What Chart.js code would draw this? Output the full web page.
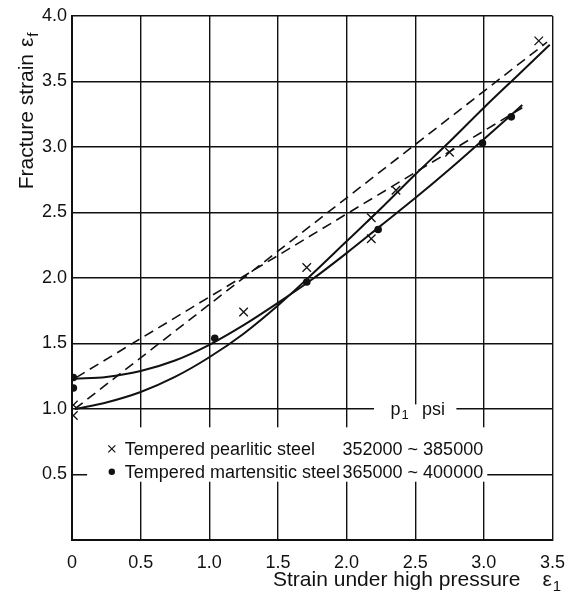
<!DOCTYPE html>
<html lang="en">
<head>
<meta charset="UTF-8">
<title>Fracture strain vs strain under high pressure</title>
<script src="https://cdn.jsdelivr.net/npm/chart.js@4.4.0/dist/chart.umd.min.js"></script>
<style>
  body { margin: 0; background: #fff; }
  #wrap { width: 577px; height: 598px; }
</style>
</head>
<body>
<div id="wrap"><canvas id="chart" width="577" height="598"></canvas></div>
<script>
const pearliticX = [0.01, 0.01, 1.25, 1.71, 2.18, 2.18, 2.36, 2.75, 3.40];
const pearliticY = [1.03, 0.95, 1.74, 2.08, 2.46, 2.30, 2.67, 2.96, 3.81];
const martensiticX = [0.01, 0.01, 1.04, 1.71, 2.23, 2.99, 3.20];
const martensiticY = [1.24, 1.16, 1.54, 1.97, 2.37, 3.03, 3.23];

// solid curves
const curvePearlX = [0.02, 0.25, 0.5, 0.75, 1.0, 1.25, 1.5, 1.75, 2.0, 2.25, 2.5, 2.75, 3.0, 3.25, 3.48];
const curvePearlY = [1.00, 1.05, 1.13, 1.245, 1.395, 1.575, 1.79, 2.03, 2.28, 2.53, 2.79, 3.04, 3.30, 3.55, 3.78];
const curveMartX = [0.02, 0.25, 0.5, 0.75, 1.0, 1.25, 1.5, 1.75, 2.0, 2.25, 2.5, 2.75, 3.0, 3.28];
const curveMartY = [1.23, 1.245, 1.29, 1.37, 1.49, 1.64, 1.81, 1.99, 2.19, 2.40, 2.61, 2.83, 3.06, 3.32];

// straight dashed lines
const dashPearlX = [0.02, 3.46];
const dashPearlY = [1.00, 3.80];
const dashMartX = [0.03, 3.28];
const dashMartY = [1.24, 3.30];

// axis ticks
const xTickLabels = ['0', '0.5', '1.0', '1.5', '2.0', '2.5', '3.0', '3.5'];
const yTickLabels = ['', '0.5', '1.0', '1.5', '2.0', '2.5', '3.0', '3.5', '4.0'];

// legend text
const legendNames = ['Tempered pearlitic steel', 'Tempered martensitic steel'];
const legendRanges = ['352000 ~ 385000', '365000 ~ 400000'];

const FONT = "'Liberation Sans', Arial, sans-serif";
const INK = '#111';

function pts(xs, ys) {
    return xs.map((x, i) => ({ x: x, y: ys[i] }));
}

// text with a small subscript after it
function subText(ctx, x, y, main, sub, size) {
    ctx.font = size + 'px ' + FONT;
    const w1 = ctx.measureText(main).width;
    ctx.fillText(main, x, y);
    ctx.font = Math.round(size * 0.7) + 'px ' + FONT;
    ctx.fillText(sub, x + w1 + 1, y + size * 0.22);
    return w1 + 1 + ctx.measureText(sub).width;
}

const paperPlugin = {
    id: 'paper',
    beforeDatasetsDraw(chart) {
        const ctx = chart.ctx;
        const xs = chart.scales.x, ys = chart.scales.y;
        ctx.save();
        ctx.fillStyle = '#fff';
        // legend panel hides the grid behind it
        const l = xs.getPixelForValue(0.11), r = xs.getPixelForValue(3.025);
        const t = ys.getPixelForValue(0.86), b = ys.getPixelForValue(0.445);
        ctx.fillRect(l, t, r - l, b - t);
        // gap in the 1.0 line for "p1 psi"
        const pl = xs.getPixelForValue(2.2), pr = xs.getPixelForValue(2.8);
        const pt = ys.getPixelForValue(1.035);
        ctx.fillRect(pl, pt, pr - pl, t - pt + 1);
        ctx.restore();
    },
    afterDraw(chart) {
        const ctx = chart.ctx;
        const xs = chart.scales.x, ys = chart.scales.y;
        const area = chart.chartArea;
        ctx.save();
        ctx.fillStyle = INK;
        ctx.strokeStyle = INK;
        ctx.textBaseline = 'alphabetic';
        ctx.textAlign = 'left';

        // p1 psi
        subText(ctx, xs.getPixelForValue(2.32), ys.getPixelForValue(0.955), 'p', '1', 18);
        ctx.font = '18px ' + FONT;
        ctx.fillText('psi', xs.getPixelForValue(2.55), ys.getPixelForValue(0.955));

        // legend rows
        const rowY = [0.65, 0.475];
        const textX = xs.getPixelForValue(0.385);
        const markX = xs.getPixelForValue(0.29);
        rowY.forEach((v, i) => {
            const by = ys.getPixelForValue(v);
            ctx.font = '18px ' + FONT;
            ctx.textAlign = 'left';
            ctx.fillText(legendNames[i], textX, by);
            ctx.textAlign = 'right';
            ctx.fillText(legendRanges[i], xs.getPixelForValue(2.995), by);
            const my = by - 6;
            if (i === 0) {
                ctx.lineWidth = 1.2;
                ctx.beginPath();
                ctx.moveTo(markX - 3.5, my - 3.5); ctx.lineTo(markX + 3.5, my + 3.5);
                ctx.moveTo(markX + 3.5, my - 3.5); ctx.lineTo(markX - 3.5, my + 3.5);
                ctx.stroke();
            } else {
                ctx.beginPath();
                ctx.arc(markX, my, 3.2, 0, Math.PI * 2);
                ctx.fill();
            }
        });

        // x axis title
        ctx.font = '21px ' + FONT;
        ctx.textAlign = 'right';
        ctx.fillText('Strain under high pressure', area.right - 32, 586);
        ctx.textAlign = 'left';
        subText(ctx, area.right - 10, 586, '\u03b5', '1', 21);

        // y axis title, rotated
        ctx.translate(33, 30);
        ctx.rotate(-Math.PI / 2);
        ctx.font = '21px ' + FONT;
        ctx.textAlign = 'right';
        ctx.fillText('Fracture strain', -24, 0);
        ctx.textAlign = 'left';
        subText(ctx, -17, 0, '\u03b5', 'f', 21);
        ctx.restore();
    }
};

new Chart(document.getElementById('chart'), {
    type: 'scatter',
    data: {
        datasets: [
            {
                label: 'pearlitic curve', type: 'line', data: pts(curvePearlX, curvePearlY),
                borderColor: INK, borderWidth: 2, pointRadius: 0, cubicInterpolationMode: 'monotone', fill: false
            },
            {
                label: 'martensitic curve', type: 'line', data: pts(curveMartX, curveMartY),
                borderColor: INK, borderWidth: 2, pointRadius: 0, cubicInterpolationMode: 'monotone', fill: false
            },
            {
                label: 'pearlitic dashed', type: 'line', data: pts(dashPearlX, dashPearlY),
                borderColor: INK, borderWidth: 1.6, borderDash: [10, 6], pointRadius: 0, fill: false
            },
            {
                label: 'martensitic dashed', type: 'line', data: pts(dashMartX, dashMartY),
                borderColor: INK, borderWidth: 1.6, borderDash: [10, 6], pointRadius: 0, fill: false
            },
            {
                label: 'Tempered pearlitic steel', data: pts(pearliticX, pearliticY),
                pointStyle: 'crossRot', pointRadius: 6, borderColor: INK, borderWidth: 1.3
            },
            {
                label: 'Tempered martensitic steel', data: pts(martensiticX, martensiticY),
                pointStyle: 'circle', pointRadius: 3.8, backgroundColor: INK, borderColor: INK, borderWidth: 0
            }
        ]
    },
    options: {
        responsive: false,
        animation: false,
        devicePixelRatio: 1,
        layout: { padding: { top: 16, right: 20, left: 0, bottom: 0 } },
        plugins: { legend: { display: false }, tooltip: { enabled: false } },
        scales: {
            x: {
                type: 'linear', min: 0, max: 3.5,
                afterFit: s => { s.height = 58; },
                grid: { color: INK, lineWidth: 1.4, drawTicks: false },
                border: { color: INK, width: 2 },
                ticks: {
                    stepSize: 0.5, padding: 12, color: INK,
                    font: { family: FONT, size: 18 },
                    callback: (v, i) => xTickLabels[i]
                }
            },
            y: {
                type: 'linear', min: 0, max: 4,
                afterFit: s => { s.width = 72; },
                grid: { color: INK, lineWidth: 1.4, drawTicks: false },
                border: { color: INK, width: 2 },
                ticks: {
                    stepSize: 0.5, padding: 5, color: INK,
                    font: { family: FONT, size: 18 },
                    callback: (v, i) => yTickLabels[i]
                }
            }
        }
    },
    plugins: [paperPlugin]
});
</script>
</body>
</html>
